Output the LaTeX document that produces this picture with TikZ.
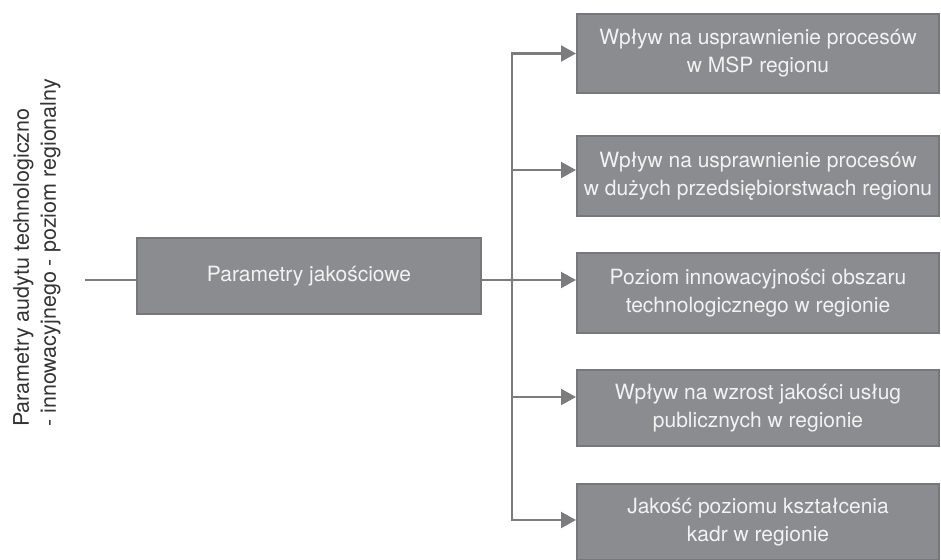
\documentclass[tikz,border=0pt]{standalone}
\usepackage{fontspec}
\setmainfont{TeX Gyre Heros}
\usetikzlibrary{arrows.meta}
\definecolor{boxfill}{HTML}{8A8C8F}
\definecolor{boxedge}{HTML}{76787B}
\definecolor{linkgray}{HTML}{7C7C7E}
\definecolor{boxtext}{HTML}{F2F2F2}
\definecolor{sidetext}{HTML}{333333}

\begin{document}
\begin{tikzpicture}[x=1pt, y=-1pt,
  param/.style={draw=boxedge, line width=2pt, fill=boxfill, text=boxtext,
    align=center, inner sep=0pt, font=\fontsize{21}{28}\selectfont},
  link/.style={draw=linkgray, line width=2.2pt},
  arr/.style={link, -{Triangle[length=15pt, width=16pt]}}]
  \useasboundingbox (0, 0) rectangle (941, 559);
  \node[rotate=90, anchor=west, align=left, inner sep=0pt, text=sidetext,
    font=\fontsize{21.5}{27}\selectfont] (title) at (37, 427)
    {Parametry audytu technologiczno\\- innowacyjnego - poziom regionalny};
  \coordinate (start) at (85, 280);
  \node[param, minimum width=344pt, minimum height=76pt] (jak) at (309, 276)
    {Parametry jakościowe};
  \coordinate (fork) at (512, 280);
  \node[param, minimum width=362pt, minimum height=79pt] (b1) at (758, 53.5)
    {Wpływ na usprawnienie procesów\\w MSP regionu};
  \node[param, minimum width=362pt, minimum height=80pt] (b2) at (758, 176)
    {Wpływ na usprawnienie procesów\\w dużych przedsiębiorstwach regionu};
  \node[param, minimum width=362pt, minimum height=80pt] (b3) at (758, 293)
    {Poziom innowacyjności obszaru\\technologicznego w regionie};
  \node[param, minimum width=362pt, minimum height=76pt] (b4) at (758, 408)
    {Wpływ na wzrost jakości usług\\publicznych w regionie};
  \node[param, minimum width=362pt, minimum height=76pt] (b5) at (758, 522)
    {Jakość poziomu kształcenia\\kadr w regionie};
  \draw[link] (start) -- (start -| jak.west);
  \draw[link] (fork -| jak.east) -- (fork);
  \draw[arr] (fork) |- (b1.west);
  \draw[arr] (fork) |- ([yshift=6pt]b2.west);
  \draw[arr] (fork) -- (fork -| b3.west);
  \draw[arr] (fork) |- ([yshift=11pt]b4.west);
  \draw[arr] (fork) |- ([yshift=2pt]b5.west);
\end{tikzpicture}
\end{document}
